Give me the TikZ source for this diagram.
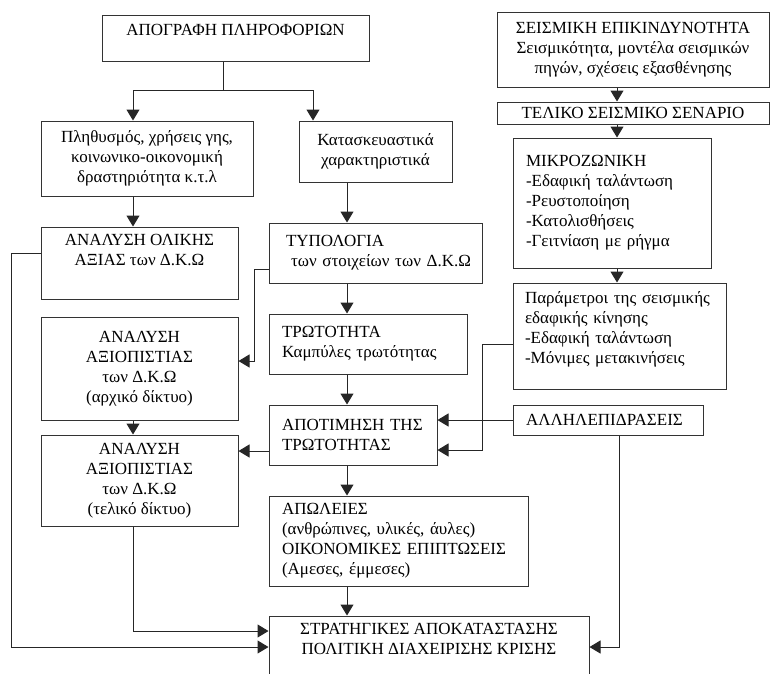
\documentclass[tikz,border=0pt]{standalone}
\usepackage{fontspec}
\setmainfont{Liberation Serif}
\usetikzlibrary{arrows.meta}

\tikzstyle{every node}=[font=\fontsize{17}{20}\selectfont]
\tikzstyle{box}=[draw=black!80, line width=1pt, rectangle, inner sep=0pt, align=center]
\tikzstyle{lbox}=[box, align=left, inner xsep=13pt]
\tikzstyle{arr}=[color=black!85, line width=1pt, -{Triangle[length=11pt,width=13pt]}]

\begin{document}
\begin{tikzpicture}[x=1pt,y=-1pt]
\useasboundingbox (0,0) rectangle (779,673);

\node [box, minimum width=267pt, minimum height=46pt] (apografi) at (235.5,38) {ΑΠΟΓΡΑΦΗ ΠΛΗΡΟΦΟΡΙΩΝ\\[-9pt]\strut};
\node [box, minimum width=212pt, minimum height=75pt] (plith) at (147,158.5) {Πληθυσμός, χρήσεις γης,\\κοινωνικο-οικονομική\\δραστηριότητα κ.τ.λ};
\node [box, minimum width=153pt, minimum height=61pt] (kataskeu) at (375.5,151.5) {Κατασκευαστικά\\χαρακτηριστικά};

\node [box, minimum width=197pt, minimum height=72pt] (olikh) at (139.5,263) {ΑΝΑΛΥΣΗ ΟΛΙΚΗΣ\\ΑΞΙΑΣ των Δ.Κ.Ω\\\strut};
\node [box, minimum width=197pt, minimum height=103pt] (arxiko) at (139.5,368.5) {ΑΝΑΛΥΣΗ\\ΑΞΙΟΠΙΣΤΙΑΣ\\των Δ.Κ.Ω\\(αρχικό δίκτυο)};
\node [box, minimum width=197pt, minimum height=91pt] (teliko) at (139.5,480.5) {ΑΝΑΛΥΣΗ\\ΑΞΙΟΠΙΣΤΙΑΣ\\των Δ.Κ.Ω\\(τελικό δίκτυο)};

\node [lbox, text width=187pt, minimum height=60pt] (typol) at (375.5,253) {\hspace*{4pt}ΤΥΠΟΛΟΓΙΑ\\\mbox{\hspace*{9pt}των στοιχείων των Δ.Κ.Ω}};
\node [lbox, text width=172pt, minimum height=60pt] (trot) at (368,344) {ΤΡΩΤΟΤΗΤΑ\\Καμπύλες τρωτότητας};
\node [lbox, text width=142pt, minimum height=60pt] (apotim) at (353,435) {\mbox{ΑΠΟΤΙΜΗΣΗ ΤΗΣ}\\ΤΡΩΤΟΤΗΤΑΣ};
\node [lbox, text width=233pt, minimum height=90pt] (apoleies) at (398.5,541) {ΑΠΩΛΕΙΕΣ\\(ανθρώπινες, υλικές, άυλες)\\ΟΙΚΟΝΟΜΙΚΕΣ ΕΠΙΠΤΩΣΕΙΣ\\(Αμεσες, έμμεσες)};
\node [box, minimum width=320pt, minimum height=72pt] (strat) at (429,652) {ΣΤΡΑΤΗΓΙΚΕΣ ΑΠΟΚΑΤΑΣΤΑΣΗΣ\\ΠΟΛΙΤΙΚΗ ΔΙΑΧΕΙΡΙΣΗΣ ΚΡΙΣΗΣ\\\strut};

\node [box, minimum width=272pt, minimum height=75pt] (seism) at (633,49.5) {ΣΕΙΣΜΙΚΗ ΕΠΙΚΙΝΔΥΝΟΤΗΤΑ\\Σεισμικότητα, μοντέλα σεισμικών\\πηγών, σχέσεις εξασθένησης};
\node [box, minimum width=272pt, minimum height=22pt] (telsen) at (633,113) {ΤΕΛΙΚΟ ΣΕΙΣΜΙΚΟ ΣΕΝΑΡΙΟ};
\node [lbox, text width=172pt, minimum height=130pt] (mikro) at (612,203) {ΜΙΚΡΟΖΩΝΙΚΗ\\-Εδαφική ταλάντωση\\-Ρευστοποίηση\\-Κατολισθήσεις\\-Γειτνίαση με ρήγμα};
\node [lbox, text width=189pt, inner xsep=12pt, minimum height=106pt] (param) at (619.5,336) {\mbox{Παράμετροι της σεισμικής}\\εδαφικής κίνησης\\-Εδαφική ταλάντωση\\-Μόνιμες μετακινήσεις\\[-9pt]\strut};
\node [lbox, text width=164pt, minimum height=30pt] (allil) at (608,420) {ΑΛΛΗΛΕΠΙΔΡΑΣΕΙΣ};

\draw [arr] (223,0 |- apografi.south) -- ++(0,29) -| (133,0 |- plith.north);
\draw [arr] (223,0 |- apografi.south) -- ++(0,29) -| (313,0 |- kataskeu.north);

\path [arr]
	(133,0 |- plith.south) edge (133,0 |- olikh.north)
	(133,0 |- arxiko.south) edge (133,0 |- teliko.north)
	(347,0 |- kataskeu.south) edge (347,0 |- typol.north)
	(347,0 |- typol.south) edge (347,0 |- trot.north)
	(347,0 |- trot.south) edge (347,0 |- apotim.north)
	(347,0 |- apotim.south) edge (347,0 |- apoleies.north)
	(347,0 |- apoleies.south) edge (347,0 |- strat.north)
	(617,0 |- seism.south) edge (617,0 |- telsen.north)
	(617,0 |- telsen.south) edge (617,0 |- mikro.north)
	(617,0 |- mikro.south) edge (617,0 |- param.north)
	(allil.west) edge (apotim.east |- allil.west)
	(apotim.west |- 0,451) edge (teliko.east |- 0,451)
;

\draw [arr] (olikh.west |- 0,253) -- (11,253) |- (strat.west |- 0,647);
\draw [arr] (typol.west |- 0,269) -| (254,361) -- (arxiko.east |- 0,361);
\draw [arr] (133,0 |- teliko.south) |- (strat.west |- 0,631);
\draw [arr] (param.west |- 0,344) -| (482,450) -- (apotim.east |- 0,450);
\draw [arr] (619,0 |- allil.south) |- (strat.east |- 0,647);

\end{tikzpicture}
\end{document}
